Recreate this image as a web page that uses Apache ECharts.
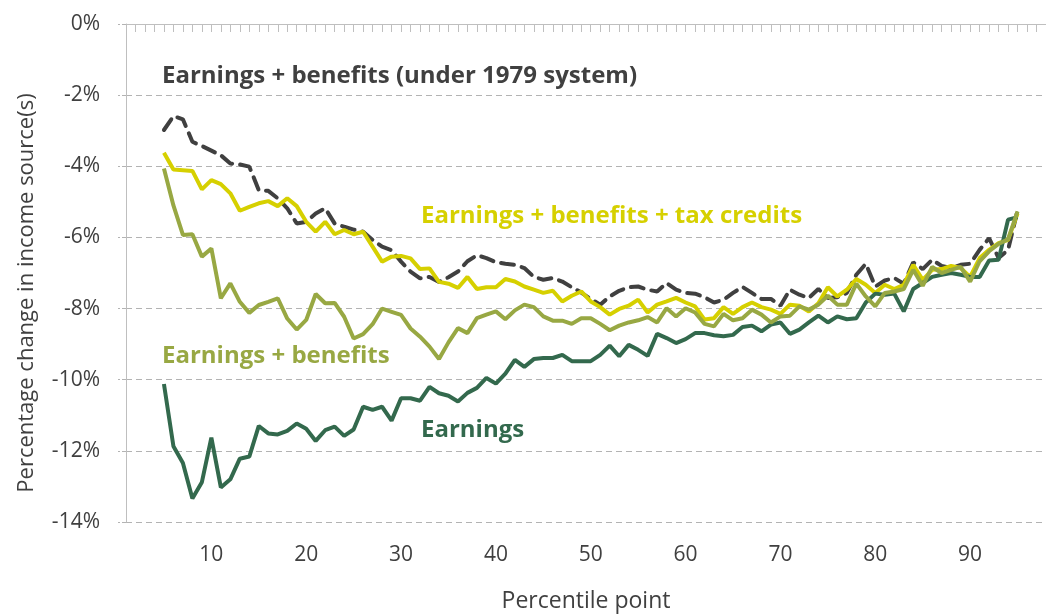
<!DOCTYPE html>
<html>
<head>
<meta charset="utf-8">
<title>Percentage change in income source(s)</title>
<script src="https://cdn.jsdelivr.net/npm/echarts@6/dist/echarts.min.js"></script>
<style>
html, body { margin: 0; padding: 0; background: #fff; }
#chart { width: 1046px; height: 614px; }
</style>
</head>
<body>
<div id="chart"></div>
<script>
// percentile points 5..95
var percentiles = [];
for (var p = 5; p <= 95; p++) percentiles.push(p);

var earnings = [
  -10.12, -11.87, -12.34, -13.34, -12.88, -11.63, -13.03, -12.80, -12.22, -12.16,
  -11.30, -11.51, -11.54, -11.44, -11.23, -11.38, -11.72, -11.42, -11.32, -11.58,
  -11.40, -10.76, -10.85, -10.76, -11.15, -10.52, -10.52, -10.59, -10.20, -10.38,
  -10.45, -10.61, -10.37, -10.23, -9.95, -10.11, -9.83, -9.44, -9.64, -9.42,
  -9.39, -9.39, -9.30, -9.48, -9.48, -9.48, -9.30, -9.04, -9.34, -9.02,
  -9.16, -9.33, -8.71, -8.83, -8.97, -8.86, -8.69, -8.69, -8.75, -8.78,
  -8.74, -8.52, -8.48, -8.64, -8.45, -8.39, -8.71, -8.59, -8.39, -8.20,
  -8.39, -8.22, -8.30, -8.27, -7.83, -7.58, -7.61, -7.58, -8.08, -7.45,
  -7.28, -7.11, -7.05, -7.00, -7.05, -7.11, -7.11, -6.65, -6.63, -5.50,
  -5.43
];

var earningsBenefits = [
  -4.06, -5.10, -5.93, -5.91, -6.54, -6.31, -7.71, -7.29, -7.81, -8.12,
  -7.90, -7.81, -7.71, -8.28, -8.59, -8.32, -7.59, -7.85, -7.84, -8.23,
  -8.84, -8.72, -8.44, -8.00, -8.09, -8.18, -8.56, -8.79, -9.07, -9.42,
  -8.95, -8.55, -8.69, -8.27, -8.17, -8.08, -8.30, -8.05, -7.89, -7.96,
  -8.22, -8.34, -8.34, -8.43, -8.27, -8.27, -8.43, -8.61, -8.48, -8.39,
  -8.33, -8.24, -8.39, -7.99, -8.22, -7.99, -8.11, -8.43, -8.50, -8.15,
  -8.33, -8.27, -8.03, -8.17, -8.39, -8.22, -8.20, -7.94, -8.03, -7.89,
  -7.64, -7.89, -7.89, -7.30, -7.66, -7.94, -7.56, -7.52, -7.45, -6.91,
  -7.36, -6.83, -7.00, -6.91, -6.83, -7.24, -6.67, -6.39, -6.18, -6.05,
  -5.27
];

var earningsBenefitsTax = [
  -3.62, -4.09, -4.11, -4.13, -4.65, -4.39, -4.50, -4.76, -5.25, -5.14,
  -5.04, -4.98, -5.12, -4.90, -5.12, -5.56, -5.84, -5.56, -5.91, -5.79,
  -5.91, -5.84, -6.26, -6.68, -6.54, -6.52, -6.59, -6.89, -6.87, -7.25,
  -7.30, -7.42, -7.11, -7.45, -7.40, -7.40, -7.17, -7.24, -7.38, -7.47,
  -7.56, -7.50, -7.80, -7.64, -7.52, -7.80, -7.96, -8.17, -8.01, -7.92,
  -7.75, -8.11, -7.89, -7.80, -7.70, -7.83, -7.94, -8.31, -8.27, -7.96,
  -8.15, -7.96, -7.83, -7.96, -8.03, -8.15, -7.89, -7.92, -8.08, -7.85,
  -7.40, -7.66, -7.47, -7.17, -7.33, -7.56, -7.33, -7.45, -7.33, -6.77,
  -7.19, -6.91, -6.89, -6.80, -6.86, -7.11, -6.58, -6.35, -6.16, -6.07,
  -5.32
];

var under1979 = [
  -2.98, -2.59, -2.68, -3.31, -3.43, -3.56, -3.69, -3.92, -3.95, -4.01,
  -4.67, -4.69, -4.90, -5.18, -5.61, -5.56, -5.33, -5.18, -5.61, -5.70,
  -5.78, -5.84, -6.07, -6.26, -6.36, -6.68, -6.96, -7.15, -7.11, -7.25,
  -7.12, -6.96, -6.67, -6.50, -6.58, -6.70, -6.74, -6.77, -6.86, -7.11,
  -7.19, -7.14, -7.24, -7.40, -7.55, -7.73, -7.89, -7.66, -7.50, -7.40,
  -7.38, -7.47, -7.52, -7.28, -7.47, -7.56, -7.58, -7.68, -7.83, -7.75,
  -7.56, -7.39, -7.56, -7.73, -7.73, -7.92, -7.47, -7.61, -7.70, -7.45,
  -7.70, -7.68, -7.56, -7.05, -6.74, -7.38, -7.21, -7.14, -7.30, -6.70,
  -6.89, -6.63, -6.80, -6.86, -6.77, -6.74, -6.35, -6.02, -6.58, -6.35,
  -5.24
];

var xTickLabels = [10, 20, 30, 40, 50, 60, 70, 80, 90];

function pairs(values) {
  return percentiles.map(function (p, i) { return [p, values[i]]; });
}

var FONT = '"Open Sans", "Noto Sans", sans-serif';
var TEXT = '#404040';
var AXIS = '#bfbfbf';

var chart = echarts.init(document.getElementById('chart'));

var option = {
  animation: false,
  textStyle: { fontFamily: FONT },
  grid: { left: 126, right: 0, top: 24, bottom: 92, containLabel: false, outerBoundsMode: 'none' },
  xAxis: [
    {
      type: 'value', position: 'bottom', min: 1, max: 98, interval: 1,
      name: 'Percentile point', nameLocation: 'middle', nameGap: 68,
      nameTextStyle: { fontSize: 23, color: TEXT, fontFamily: FONT },
      axisLine: { show: false }, axisTick: { show: false }, splitLine: { show: false },
      axisLabel: {
        fontSize: 21, color: TEXT, margin: 23, fontFamily: FONT,
        formatter: function (v) { return xTickLabels.indexOf(v) >= 0 ? String(v) : ''; }
      }
    },
    {
      type: 'value', position: 'top', min: 1, max: 98, interval: 1,
      axisLine: { show: true, onZero: false, lineStyle: { color: AXIS, width: 1 } },
      axisTick: { show: true, inside: true, length: 8, lineStyle: { color: AXIS } },
      axisLabel: { show: false }, splitLine: { show: false }
    }
  ],
  yAxis: {
    type: 'value', min: -14, max: 0, interval: 2,
    name: 'Percentage change in income source(s)', nameLocation: 'middle', nameGap: 88,
    nameTextStyle: { fontSize: 22, color: TEXT, fontFamily: FONT, padding: [0, 40, 0, 0] },
    axisLine: { show: true, lineStyle: { color: AXIS, width: 1 } },
    axisTick: { show: true, length: 8, lineStyle: { color: '#b3b3b3', type: 'dashed' } },
    axisLabel: { fontSize: 21, color: TEXT, margin: 26, fontFamily: FONT, formatter: '{value}%' },
    splitLine: { show: true, lineStyle: { color: '#b3b3b3', type: [6, 4], width: 1 } }
  },
  series: [
    {
      name: 'Earnings + benefits (under 1979 system)', type: 'line', data: pairs(under1979),
      showSymbol: false, symbol: 'none',
      lineStyle: { color: '#404040', width: 4, type: [13, 8], cap: 'round' }
    },
    {
      name: 'Earnings + benefits + tax credits', type: 'line', data: pairs(earningsBenefitsTax),
      showSymbol: false, symbol: 'none',
      lineStyle: { color: '#d6d000', width: 4 }
    },
    {
      name: 'Earnings', type: 'line', data: pairs(earnings),
      showSymbol: false, symbol: 'none',
      lineStyle: { color: '#33694d', width: 4 }
    },
    {
      name: 'Earnings + benefits', type: 'line', data: pairs(earningsBenefits),
      showSymbol: false, symbol: 'none',
      lineStyle: { color: '#98a843', width: 4 }
    }
  ],
  graphic: [
    { type: 'text', left: 162, top: 64, style: { text: 'Earnings + benefits (under 1979 system)', font: 'bold 24px ' + FONT, fill: '#404040' } },
    { type: 'text', left: 421, top: 204, style: { text: 'Earnings + benefits + tax credits', font: 'bold 24px ' + FONT, fill: '#d6d000' } },
    { type: 'text', left: 162, top: 344, style: { text: 'Earnings + benefits', font: 'bold 24px ' + FONT, fill: '#98a843' } },
    { type: 'text', left: 421, top: 418, style: { text: 'Earnings', font: 'bold 24px ' + FONT, fill: '#33694d' } }
  ]
};

chart.setOption(option);
</script>
</body>
</html>
